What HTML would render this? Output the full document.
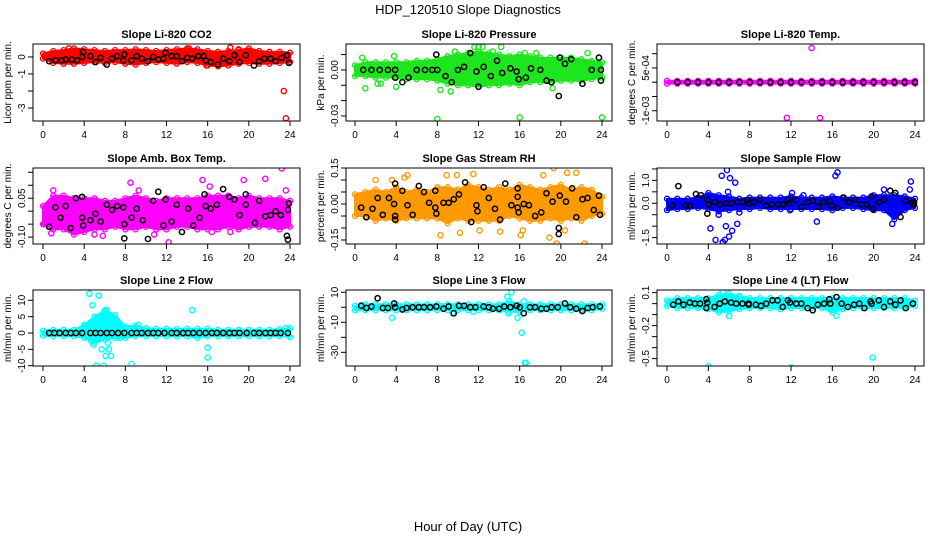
<!DOCTYPE html>
<html><head><meta charset="utf-8">
<style>
html,body{margin:0;padding:0;background:#fff;}
svg{display:block;font-family:"Liberation Sans",Arial,sans-serif;}
</style></head>
<body>
<svg id="chart" width="936" height="540" viewBox="0 0 936 540" xmlns="http://www.w3.org/2000/svg">
<text x="468" y="14" text-anchor="middle" font-size="13">HDP_120510  Slope Diagnostics</text>
<text x="468" y="531" text-anchor="middle" font-size="13">Hour of Day (UTC)</text>
</svg>
<script>
const hours = [0,1,2,3,4,5,6,7,8,9,10,11,12,13,14,15,16,17,18,19,20,21,22,23,24];
const xTicks = [0,4,8,12,16,20,24];

// Panel 1: CO2
const co2Hi = [0.2,0.35,0.4,0.5,0.45,0.4,0.35,0.4,0.4,0.45,0.4,0.35,0.4,0.45,0.5,0.45,0.35,0.3,0.35,0.4,0.5,0.35,0.3,0.3,0.25];
const co2Lo = [-0.1,-0.35,-0.4,-0.4,-0.35,-0.3,-0.35,-0.3,-0.4,-0.45,-0.35,-0.3,-0.35,-0.4,-0.3,-0.35,-0.5,-0.55,-0.5,-0.4,-0.35,-0.4,-0.4,-0.35,-0.3];
const co2Out = [[23.4,-2.0],[23.6,-3.6],[2.5,0.5],[14.2,0.5],[18.2,0.55],[19.0,0.45],[15.9,-0.5]];
const co2Blk = [[0.6,-0.25],[1.2,-0.2],[1.8,-0.2],[2.2,-0.15],[2.8,-0.15],[3.3,-0.2],[3.8,0.0],[3.9,0.3],[4.6,0.05],[5.1,-0.3],[5.6,-0.05],[6.2,-0.45],[6.7,-0.1],[7.2,0.05],[7.8,-0.2],[7.9,0.15],[8.6,-0.2],[9.1,0.05],[9.6,-0.1],[10.2,-0.25],[10.7,0.0],[11.2,-0.15],[11.7,-0.1],[11.9,0.25],[12.5,0.05],[13.0,0.05],[13.5,-0.25],[14.0,-0.05],[14.5,-0.1],[15.1,0.05],[15.6,0.05],[15.8,-0.2],[16.3,-0.3],[17.0,-0.45],[17.5,-0.1],[18.1,-0.25],[18.6,0.1],[19.1,-0.3],[19.7,0.1],[20.5,-0.5],[21.0,-0.25],[21.5,-0.1],[22.1,-0.1],[22.6,-0.25],[23.2,-0.05],[23.7,0.1],[23.9,-0.35]];
const co2Ticks = [0,-1,-2,-3];
const co2Labels = ["0","-1","","-3"];

// Panel 2: Pressure
const prsHi = [0.003,0.005,0.005,0.005,0.005,0.005,0.006,0.006,0.007,0.009,0.01,0.011,0.012,0.011,0.01,0.009,0.01,0.009,0.008,0.008,0.008,0.008,0.007,0.006,0.005];
const prsLo = [-0.004,-0.004,-0.005,-0.005,-0.005,-0.006,-0.006,-0.006,-0.007,-0.009,-0.01,-0.01,-0.011,-0.01,-0.01,-0.009,-0.01,-0.008,-0.008,-0.008,-0.007,-0.007,-0.007,-0.006,-0.005];
const prsOut = [[0.7,0.008],[1.0,-0.012],[3.8,0.009],[4.0,-0.011],[8.0,-0.032],[8.3,-0.013],[9.3,-0.014],[9.7,0.012],[11.6,0.015],[12.0,0.015],[12.4,0.015],[13.4,0.012],[14.2,0.015],[16.0,-0.031],[16.5,0.011],[17.6,0.011],[19.2,-0.012],[22.6,0.011],[24.0,-0.031],[2.2,-0.009],[2.5,-0.009]];
const prsBlk = [[0.8,0],[1.6,0],[2.4,0],[3.2,0],[3.9,0],[3.9,-0.005],[4.6,-0.008],[5.2,-0.005],[6.0,0],[6.8,0],[7.5,0],[7.9,0.01],[8.0,0],[8.8,-0.004],[9.4,-0.008],[10.0,0],[10.6,0.002],[11.2,0.011],[11.8,-0.001],[12.0,-0.011],[12.5,0.002],[13.2,-0.004],[13.8,0.006],[14.3,-0.002],[15.1,0.001],[15.7,-0.001],[15.9,-0.006],[16.6,-0.005],[17.1,0.001],[18.0,0],[18.6,-0.007],[19.1,-0.008],[19.8,-0.017],[19.9,0.008],[20.4,0.004],[21.0,0.007],[22.1,-0.009],[23.0,0],[23.7,0.008],[23.9,-0.007],[23.9,0]];
const prsTicks = [0.01,0,-0.01,-0.02,-0.03];
const prsLabels = ["","0.00","","","-0.03"];

// Panel 3: Temp
const tmpHi = [0.00005,0.00005,0.00005,0.00005,0.00005,0.00005,0.00005,0.00005,0.00005,0.00005,0.00005,0.00005,0.00005,0.00005,0.00005,0.00005,0.00005,0.00005,0.00005,0.00005,0.00005,0.00005,0.00005,0.00005,0.00005];
const tmpLo = [-0.00005,-0.00005,-0.00005,-0.00005,-0.00005,-0.00005,-0.00005,-0.00005,-0.00005,-0.00005,-0.00005,-0.00005,-0.00005,-0.00005,-0.00005,-0.00005,-0.00005,-0.00005,-0.00005,-0.00005,-0.00005,-0.00005,-0.00005,-0.00005,-0.00005];
const tmpOut = [[14.0,0.0012],[11.6,-0.00125],[14.8,-0.00125]];
const tmpBlk = [[1,0],[2,0],[3,0],[4,0],[5,0],[6,0],[7,0],[8,0],[9,0],[10,0],[11,0],[12,0],[13,0],[14,0],[15,0],[16,0],[17,0],[18,0],[19,0],[20,0],[21,0],[22,0],[23,0],[24,0]];
const tmpTicks = [0.001,0.0005,0,-0.0005,-0.001];
const tmpLabels = ["","5e-04","","","-1e-03"];

// Panel 4: Amb box temp
const ambHi = [0.02,0.06,0.06,0.05,0.05,0.05,0.04,0.04,0.05,0.06,0.05,0.04,0.05,0.05,0.05,0.05,0.06,0.06,0.06,0.05,0.06,0.05,0.05,0.05,0.04];
const ambLo = [-0.05,-0.07,-0.07,-0.09,-0.08,-0.07,-0.07,-0.06,-0.07,-0.07,-0.06,-0.07,-0.07,-0.06,-0.06,-0.07,-0.07,-0.07,-0.06,-0.07,-0.06,-0.06,-0.06,-0.07,-0.06];
const ambOut = [[0.1,-0.05],[0.8,-0.085],[1.0,0.08],[8.5,0.11],[9.3,0.08],[12.2,-0.12],[15.5,0.12],[16.2,0.095],[16.4,-0.08],[19.5,0.12],[21.6,0.125],[23.2,0.165],[23.6,0.08],[18.2,-0.08],[10.8,-0.09],[5.0,-0.09],[5.8,-0.095]];
const ambBlk = [[0.6,-0.06],[1.2,0.015],[1.7,-0.025],[2.2,0.02],[2.7,-0.065],[3.2,0.05],[3.8,0.055],[3.8,-0.025],[3.9,-0.055],[4.6,-0.035],[5.1,-0.01],[5.6,-0.04],[6.2,0.025],[6.7,0.005],[7.2,0.02],[7.8,0.015],[7.9,-0.05],[7.9,-0.105],[8.6,-0.025],[9.1,0.01],[9.7,-0.035],[10.2,-0.107],[10.7,0.04],[11.2,0.075],[11.7,-0.055],[11.9,0.045],[12.5,-0.04],[13.0,0.025],[13.5,-0.08],[14.1,0.01],[14.6,-0.055],[15.2,-0.025],[15.7,0.065],[15.8,0.02],[16.3,0.01],[16.9,0.025],[17.5,0.085],[18.1,0.055],[18.6,0.045],[19.1,-0.015],[19.7,0.065],[19.7,0.025],[20.6,-0.045],[21.0,0.04],[21.6,-0.02],[22.1,-0.015],[22.6,0.0],[23.1,-0.015],[23.7,-0.095],[23.8,0.005],[23.9,0.03],[23.8,-0.11]];
const ambTicks = [0.15,0.1,0.05,0,-0.05,-0.1];
const ambLabels = ["","","0.05","","","-0.10"];

// Panel 5: RH
const rhHi = [0.04,0.05,0.06,0.05,0.07,0.05,0.06,0.05,0.07,0.07,0.06,0.08,0.07,0.06,0.07,0.06,0.08,0.07,0.06,0.07,0.08,0.06,0.07,0.06,0.03];
const rhLo = [-0.05,-0.05,-0.07,-0.06,-0.07,-0.06,-0.06,-0.06,-0.06,-0.08,-0.06,-0.07,-0.07,-0.07,-0.07,-0.05,-0.06,-0.07,-0.07,-0.06,-0.07,-0.06,-0.07,-0.05,-0.04];
const rhOut = [[2.0,0.1],[3.6,0.1],[4.8,0.11],[5.1,0.12],[8.3,-0.13],[8.9,0.12],[9.9,0.12],[10.2,-0.12],[11.5,0.125],[12.1,-0.11],[14.1,-0.115],[16.1,-0.13],[16.3,-0.11],[18.3,0.12],[19.3,0.15],[18.9,-0.14],[19.6,-0.165],[20.6,0.13],[20.4,-0.11],[21.5,0.13],[22.3,-0.165]];
const rhBlk = [[0.6,-0.015],[1.1,-0.055],[1.7,-0.02],[2.2,0.025],[2.7,-0.045],[3.3,0.025],[3.8,0.0],[3.9,-0.05],[3.9,-0.065],[3.9,0.085],[4.6,0.055],[5.1,-0.005],[5.6,-0.045],[6.2,0.075],[6.7,0.05],[7.2,0.005],[7.8,0.055],[7.8,-0.015],[7.9,-0.04],[8.6,0.005],[9.1,0.005],[9.6,0.02],[10.1,0.04],[10.7,0.09],[11.3,-0.075],[11.8,-0.005],[11.9,-0.03],[12.5,0.07],[13.0,0.025],[13.6,-0.02],[14.1,-0.065],[14.6,0.085],[15.2,-0.005],[15.8,0.065],[15.8,0.03],[15.8,-0.015],[15.9,-0.035],[16.4,0.0],[16.9,-0.005],[17.5,-0.05],[18.1,-0.035],[18.6,0.045],[19.2,0.01],[19.8,-0.1],[19.8,-0.125],[19.9,0.035],[20.5,0.01],[21.1,0.065],[21.5,-0.055],[22.1,0.02],[22.6,0.025],[23.2,-0.025],[23.7,0.035],[23.8,-0.045]];
const rhTicks = [0.15,0.1,0.05,0,-0.05,-0.1,-0.15];
const rhLabels = ["0.15","","","0.00","","","-0.15"];

// Panel 6: Sample flow
const smpHi = [0.2,0.2,0.2,0.25,0.45,0.35,0.3,0.2,0.25,0.25,0.25,0.25,0.3,0.25,0.25,0.25,0.3,0.25,0.25,0.25,0.35,0.35,0.35,0.3,0.2];
const smpLo = [-0.3,-0.25,-0.25,-0.2,-0.25,-0.35,-0.3,-0.25,-0.25,-0.2,-0.25,-0.25,-0.25,-0.25,-0.25,-0.25,-0.3,-0.2,-0.2,-0.25,-0.3,-0.3,-0.7,-0.3,-0.2];
const smpOut = [[4.2,-1.1],[4.7,-1.6],[5.0,-0.5],[5.3,1.2],[5.4,-1.7],[5.6,-1.6],[5.7,-1.0],[5.8,1.45],[5.9,0.5],[6.0,-1.45],[6.1,1.1],[6.3,-1.2],[6.6,0.9],[6.8,-0.9],[7.0,-0.4],[11.9,-0.3],[14.5,-0.8],[16.3,1.2],[16.5,1.35],[21.0,0.6],[21.8,-0.9],[23.5,0.6],[23.6,0.95],[12.1,0.45],[13.2,0.35]];
const smpBlk = [[0.5,-0.1],[1.1,0.75],[1.8,-0.1],[2.2,-0.1],[2.8,0.4],[3.3,0.35],[3.9,0.15],[3.9,-0.45],[4.0,-0.05],[4.6,0.05],[5.1,-0.05],[5.7,0.0],[6.2,0.0],[6.8,0.05],[7.3,0.05],[7.8,0.15],[7.9,0.0],[8.4,0.05],[9.0,0.15],[9.6,-0.1],[10.1,-0.05],[10.7,-0.05],[11.2,-0.05],[11.7,0.15],[11.8,0.0],[12.4,0.15],[13.0,-0.15],[13.6,0.05],[14.1,0.1],[14.6,-0.15],[15.1,0.05],[15.7,0.1],[15.9,-0.1],[16.5,-0.2],[17.1,0.25],[17.6,0.05],[18.2,0.15],[18.8,-0.05],[19.3,-0.05],[19.8,0.3],[19.9,-0.25],[20.5,0.05],[21.0,0.15],[21.6,0.55],[22.1,0.45],[22.6,-0.6],[23.1,0.1],[23.7,0.0],[23.9,-0.05],[23.9,0.05]];
const smpTicks = [1.5,1.0,0.5,0,-0.5,-1.0,-1.5];
const smpLabels = ["","1.0","","0.0","","","-1.5"];

// Panel 7: Line 2 flow
const l2Hi = [0.7,1,1,1,2.5,5,7,5.5,2,2.3,1.5,1.3,1.3,1.2,1.3,1.3,1.3,1,1,1,1,1,1,1.2,1.5];
const l2Lo = [-0.8,-1,-1,-1,-1.5,-3,-2,-1.5,-1.5,-1,-1,-1,-1,-1,-1,-1.5,-1,-1,-1,-1,-1,-1,-1,-1,-1.2];
const l2Out = [[4.0,2.3],[4.5,12],[4.8,8.5],[5.0,4],[5.2,-10],[5.4,11.5],[5.6,2],[5.7,-5],[5.9,-10],[6.0,6.5],[6.1,-7],[6.2,7],[6.3,-3],[6.4,-5],[6.5,5.5],[6.6,-7],[6.9,3.5],[7.0,2],[7.5,-1.5],[8.6,-9.5],[9.3,2.5],[14.5,7],[16.0,-4.5],[16.0,-7.5],[4.7,-2.5],[4.9,-3.5],[23.6,1.5],[24.0,-1.2]];
const l2Blk = [[0.6,0],[1.1,0],[1.6,0],[2.2,0],[2.7,0],[3.2,0],[3.8,0],[4.6,0],[5.1,0],[5.6,0],[6.2,0],[6.7,0],[7.3,0],[7.9,0],[8.6,0],[9.1,0],[9.6,0],[10.2,0],[10.7,0],[11.2,0],[11.8,0],[12.5,0],[13.0,0],[13.6,0],[14.1,0],[14.6,0],[15.2,0],[15.8,0],[16.4,0],[16.9,0],[17.5,0],[18.1,0],[18.6,0],[19.1,0],[19.8,0],[20.5,0],[21.0,0],[21.6,0],[22.1,0],[22.6,0],[23.1,0],[23.8,0]];
const l2Ticks = [10,5,0,-5,-10];
const l2Labels = ["10","5","0","-5","-10"];

// Panel 8: Line 3 flow
const l3Hi = [1,2,2,2,2,2,2,2,2,2,2,2,2,2,2,4,2,2,2,2,2,2,2,2,2];
const l3Lo = [-2,-2,-2,-2,-2,-2,-2,-2,-2,-2,-2,-2,-2,-2,-2,-3,-3,-2,-2,-2,-2,-2,-2,-2,-1];
const l3Out = [[3.6,-7],[15.2,10],[14.8,7],[15.0,4],[14.9,-4],[15.8,-7],[16.2,-17],[16.5,-37],[16.6,-37],[16.4,4],[9.5,-4],[11.5,-3]];
const l3Blk = [[0.6,1],[1.1,-0.5],[1.6,0.5],[2.2,6],[2.7,-0.5],[3.2,-0.5],[3.8,2.5],[3.9,0],[4.6,-1.5],[5.0,-0.5],[5.6,0],[6.2,0],[6.7,0],[7.3,0],[7.9,0.5],[8.6,-1],[9.1,0.5],[9.6,-4],[10.1,1],[10.6,1],[11.2,0],[11.7,0],[12.5,0.5],[13.0,0],[13.4,-1],[14.0,-1],[14.5,0.5],[15.1,0],[15.7,1],[16.0,0],[16.4,-4],[17.0,0],[17.5,0],[18.1,-1],[18.6,-1],[19.1,0],[19.7,0],[20.4,2.5],[20.9,0],[21.5,-1],[22.1,-2.5],[22.6,-0.5],[23.1,0],[23.8,0.5]];
const l3Ticks = [10,0,-10,-20,-30];
const l3Labels = ["10","","-10","","-30"];

// Panel 9: Line 4 flow
const l4Hi = [0.03,0.05,0.05,0.05,0.05,0.08,0.09,0.07,0.05,0.05,0.05,0.05,0.05,0.05,0.05,0.05,0.05,0.05,0.05,0.05,0.05,0.05,0.05,0.05,0.03];
const l4Lo = [-0.02,-0.04,-0.04,-0.04,-0.05,-0.08,-0.07,-0.05,-0.04,-0.04,-0.04,-0.05,-0.04,-0.04,-0.04,-0.04,-0.08,-0.05,-0.04,-0.04,-0.04,-0.04,-0.04,-0.04,-0.02];
const l4Out = [[4.0,-0.57],[12.0,-0.58],[19.9,-0.49],[5.4,0.11],[6.0,-0.11],[16.4,-0.11]];
const l4Blk = [[0.6,-0.01],[1.1,0.02],[1.6,-0.01],[2.2,0.01],[2.7,0.0],[3.2,0.0],[3.8,0.04],[3.8,-0.04],[3.9,0.01],[4.6,-0.03],[5.1,0.0],[5.6,0.02],[6.2,0.01],[6.7,0.0],[7.3,0.0],[7.9,0.0],[7.9,-0.01],[8.6,-0.01],[9.1,-0.02],[9.6,0.0],[10.2,0.03],[10.7,0.03],[11.2,-0.03],[11.7,0.03],[11.9,0.01],[12.5,0.0],[13.0,0.0],[13.6,-0.04],[14.1,-0.06],[14.6,-0.01],[15.2,0.0],[15.7,0.04],[15.8,0.0],[16.4,0.06],[16.9,0.0],[17.5,-0.03],[18.1,-0.01],[18.6,0.0],[19.1,-0.04],[19.7,0.02],[19.8,0.0],[20.5,0.03],[21.0,-0.03],[21.6,0.02],[22.1,-0.01],[22.6,0.03],[23.1,-0.04],[23.8,0.0]];
const l4Ticks = [0.1,0,-0.1,-0.2,-0.3,-0.4,-0.5];
const l4Labels = ["0.1","","","-0.2","","","-0.5"];

const NS = "http://www.w3.org/2000/svg";
const svg = document.getElementById('chart');
function mk(tag, attrs, parent){
  const e = document.createElementNS(NS, tag);
  for (const k in attrs) e.setAttribute(k, attrs[k]);
  (parent||svg).appendChild(e);
  return e;
}
const cols = [{bx0:33,bx1:300,x0:43,x24:290},{bx0:346,bx1:612,x0:355,x24:602},{bx0:657,bx1:924,x0:667,x24:915}];
const rows = [{by0:44,by1:121},{by0:168,by1:244},{by0:290,by1:366}];

const panels = [
 {id:"co2",title:"Slope Li-820 CO2",ylab:"Licor ppm per min.",c:0,r:0,vTop:0.76,vBot:-3.76,color:"#ff0000",hi:co2Hi,lo:co2Lo,out:co2Out,blk:co2Blk,ticks:co2Ticks,labels:co2Labels},
 {id:"pressure",title:"Slope Li-820 Pressure",ylab:"kPa per min.",c:1,r:0,vTop:0.0169,vBot:-0.0333,color:"#1ee61e",hi:prsHi,lo:prsLo,out:prsOut,blk:prsBlk,ticks:prsTicks,labels:prsLabels},
 {id:"temp",title:"Slope Li-820 Temp.",ylab:"degrees C per min.",c:2,r:0,vTop:0.00134,vBot:-0.00136,color:"#ff00ff",hi:tmpHi,lo:tmpLo,out:tmpOut,blk:tmpBlk,ticks:tmpTicks,labels:tmpLabels},
 {id:"amb-box-temp",title:"Slope Amb. Box Temp.",ylab:"degrees C per min.",c:0,r:1,vTop:0.1665,vBot:-0.1265,color:"#ff00ff",hi:ambHi,lo:ambLo,out:ambOut,blk:ambBlk,ticks:ambTicks,labels:ambLabels},
 {id:"rh",title:"Slope Gas Stream RH",ylab:"percent per min.",c:1,r:1,vTop:0.15,vBot:-0.1667,color:"#ff9900",hi:rhHi,lo:rhLo,out:rhOut,blk:rhBlk,ticks:rhTicks,labels:rhLabels},
 {id:"sample-flow",title:"Slope Sample Flow",ylab:"ml/min per min.",c:2,r:1,vTop:1.541,vBot:-1.778,color:"#0000ff",hi:smpHi,lo:smpLo,out:smpOut,blk:smpBlk,ticks:smpTicks,labels:smpLabels},
 {id:"line2-flow",title:"Slope Line 2 Flow",ylab:"ml/min per min.",c:0,r:2,vTop:13.15,vBot:-10.09,color:"#00ffff",hi:l2Hi,lo:l2Lo,out:l2Out,blk:l2Blk,ticks:l2Ticks,labels:l2Labels},
 {id:"line3-flow",title:"Slope Line 3 Flow",ylab:"ml/min per min.",c:1,r:2,vTop:11.5,vBot:-39.1,color:"#00ffff",hi:l3Hi,lo:l3Lo,out:l3Out,blk:l3Blk,ticks:l3Ticks,labels:l3Labels},
 {id:"line4-flow",title:"Slope Line 4 (LT) Flow",ylab:"ml/min per min.",c:2,r:2,vTop:0.124,vBot:-0.567,color:"#00ffff",hi:l4Hi,lo:l4Lo,out:l4Out,blk:l4Blk,ticks:l4Ticks,labels:l4Labels}
];

panels.forEach(p => {
  const C = cols[p.c], R = rows[p.r];
  const xs = h => C.x0 + (C.x24 - C.x0) * h / 24;
  const ys = v => R.by0 + (p.vTop - v) / (p.vTop - p.vBot) * (R.by1 - R.by0);
  const g = mk('g', {});
  
  
  const clipId = 'clip-' + p.id;
  const cp = mk('clipPath', {id: clipId}, g);
  mk('rect', {x:C.bx0, y:R.by0, width:C.bx1-C.bx0, height:R.by1-R.by0}, cp);
  const t = mk('text', {x:(C.bx0+C.bx1)/2, y:R.by0-6, 'text-anchor':'middle', 'font-size':'11', 'font-weight':'bold'}, g);
  t.textContent = p.title;
  
  
  const yl = mk('text', {x:0, y:0, 'text-anchor':'middle', 'font-size':'10', transform:`translate(${C.bx0-22},${(R.by0+R.by1)/2}) rotate(-90)`}, g);
  yl.textContent = p.ylab;
  
  
  const plot = mk('g', {'clip-path': `url(#${clipId})`}, g);
  let d = '';
  hours.forEach((h,i) => { d += (i ? 'L' : 'M') + xs(h).toFixed(1) + ',' + ys(p.hi[i]).toFixed(1); });
  for (let i = hours.length-1; i >= 0; i--) d += 'L' + xs(hours[i]).toFixed(1) + ',' + ys(p.lo[i]).toFixed(1);
  d += 'Z';
  const band = mk('path', {d:d, fill:p.color, stroke:p.color, 'stroke-width':'2', 'stroke-linejoin':'round'}, plot);
  
  
  hours.forEach((h,i) => {
    [p.hi[i], p.lo[i]].forEach(v => {
      const c = mk('circle', {cx:xs(h), cy:ys(v), r:2.5, fill:'none', stroke:p.color, 'stroke-width':'1.3'}, plot);
      
      
    });
  });
  p.out.forEach(pt => {
    const c = mk('circle', {cx:xs(pt[0]), cy:ys(pt[1]), r:2.6, fill:'none', stroke:p.color, 'stroke-width':'1.4'}, plot);
    
    
  });
  p.blk.forEach(pt => {
    const c = mk('circle', {cx:xs(pt[0]), cy:ys(pt[1]), r:2.6, fill:'none', stroke:'#000', 'stroke-width':'1.5'}, plot);
    
    
  });
  const box = mk('rect', {x:C.bx0, y:R.by0, width:C.bx1-C.bx0, height:R.by1-R.by0, fill:'none', stroke:'#000', 'stroke-width':'1'}, g);
  
  
  const xa = mk('g', {}, g);
  
  
  xTicks.forEach(h => {
    mk('line', {x1:xs(h), x2:xs(h), y1:R.by1, y2:R.by1+5, stroke:'#000'}, xa);
    const tl = mk('text', {x:xs(h), y:R.by1+17, 'text-anchor':'middle', 'font-size':'10'}, xa);
    tl.textContent = String(h);
    
    
  });
  const ya = mk('g', {}, g);
  
  
  p.ticks.forEach((v,i) => {
    const y = ys(v);
    mk('line', {x1:C.bx0-5, x2:C.bx0, y1:y, y2:y, stroke:'#000'}, ya);
    if (p.labels[i]) {
      const tl = mk('text', {x:0, y:0, 'text-anchor':'middle', 'font-size':'10', transform:`translate(${C.bx0-8},${y}) rotate(-90)`}, ya);
      tl.textContent = p.labels[i];
      
      
    }
  });
});
</script>
</body></html>
